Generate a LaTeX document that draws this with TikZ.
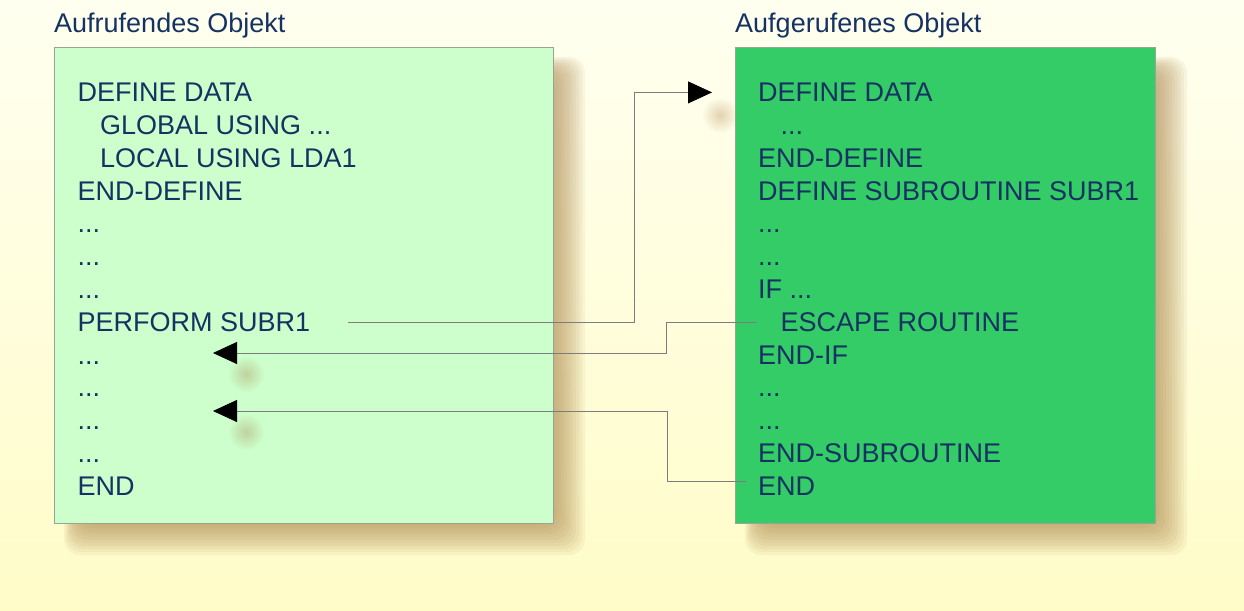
\documentclass[tikz,border=0pt]{standalone}
\usepackage{fontspec}
\setmainfont{Liberation Sans}
\usepackage{tikz}
\usetikzlibrary{shapes, arrows.meta, positioning, fadings}
\usepackage{xcolor}
\definecolor{codeblue}{RGB}{22,50,98}
\definecolor{callerfill}{RGB}{204,255,204}
\definecolor{calledfill}{RGB}{51,204,102}
\definecolor{boxedge}{RGB}{150,165,150}
\definecolor{linegray}{RGB}{125,125,125}
\definecolor{shadowtan}{RGB}{170,130,70}
\definecolor{bgtop}{RGB}{255,255,240}
\definecolor{bgbottom}{RGB}{255,252,200}
\newcommand{\codesize}{\fontsize{27pt}{32.8pt}\selectfont}
\tikzfading[name=softspot, inner color=transparent!65, outer color=transparent!100]
\tikzstyle{objectbox} = [
    rectangle,
    draw=boxedge,
    line width=0.8pt,
    inner sep=0pt,
    anchor=north west,
    minimum height=476pt
]
\tikzstyle{boxshadow} = [
    fill=shadowtan,
    opacity=0.08,
    rounded corners=16pt
]
\tikzstyle{caption} = [
    anchor=base west,
    inner sep=0pt,
    text=codeblue,
    font=\codesize
]
\tikzstyle{codeline} = [
    anchor=base west,
    inner sep=0pt,
    text=codeblue,
    font=\codesize
]
\tikzstyle{link} = [
    draw=linegray,
    line width=0.8pt,
    -{Triangle[length=24pt, width=22pt, color=black]}
]
\tikzstyle{tipshadow} = [
    fill=shadowtan,
    path fading=softspot
]

\begin{document}
\begin{tikzpicture}[x=1pt, y=-1pt, node distance=32.8pt]
    \useasboundingbox (0,0) rectangle (1244,610);
    \shade[top color=bgtop, bottom color=bgbottom] (0,0) rectangle (1244,610);

    % soft shadows under the two objects
    \foreach \g in {-16,-13,...,20} {
        \fill[boxshadow] ({64+0.5*(20-\g)},{57+0.5*(20-\g)}) rectangle ({565+\g},{535+\g});
        \fill[boxshadow] ({745+0.5*(20-\g)},{57+0.5*(20-\g)}) rectangle ({1167+\g},{535+\g});
    }

    % the two objects
    \node[objectbox, fill=callerfill, minimum width=499pt] (caller) at (54,47) {};
    \node[objectbox, fill=calledfill, minimum width=420pt] (called) at (735,47) {};
    \node[caption] (callertitle) at (54,32.5) {Aufrufendes Objekt};
    \node[caption] (calledtitle) at (735,32.5) {Aufgerufenes Objekt};

    % calling object
    \node[codeline] (ldefine) at (77.5,101.7) {DEFINE DATA};
    \node[below=of ldefine.base west, codeline, xshift=22.5pt] (lglobal) {GLOBAL USING ...};
    \node[below=of lglobal.base west, codeline] (llocal) {LOCAL USING LDA1};
    \node[below=of llocal.base west, codeline, xshift=-22.5pt] (lenddef) {END-DEFINE};
    \node[below=of lenddef.base west, codeline] (ldots1) {...};
    \node[below=of ldots1.base west, codeline] (ldots2) {...};
    \node[below=of ldots2.base west, codeline] (ldots3) {...};
    \node[below=of ldots3.base west, codeline] (lperform) {PERFORM SUBR1};
    \node[below=of lperform.base west, codeline] (ldots4) {...};
    \node[below=of ldots4.base west, codeline] (ldots5) {...};
    \node[below=of ldots5.base west, codeline] (ldots6) {...};
    \node[below=of ldots6.base west, codeline] (ldots7) {...};
    \node[below=of ldots7.base west, codeline] (lend) {END};

    % called object
    \node[codeline] (rdefine) at (758,101.7) {DEFINE DATA};
    \node[below=of rdefine.base west, codeline, xshift=22.5pt] (rdots1) {...};
    \node[below=of rdots1.base west, codeline, xshift=-22.5pt] (renddef) {END-DEFINE};
    \node[below=of renddef.base west, codeline] (rsubr) {DEFINE SUBROUTINE SUBR1};
    \node[below=of rsubr.base west, codeline] (rdots2) {...};
    \node[below=of rdots2.base west, codeline] (rdots3) {...};
    \node[below=of rdots3.base west, codeline] (rif) {IF ...};
    \node[below=of rif.base west, codeline, xshift=22.5pt] (rescape) {ESCAPE ROUTINE};
    \node[below=of rescape.base west, codeline, xshift=-22.5pt] (rendif) {END-IF};
    \node[below=of rendif.base west, codeline] (rdots4) {...};
    \node[below=of rdots4.base west, codeline] (rdots5) {...};
    \node[below=of rdots5.base west, codeline] (rendsub) {END-SUBROUTINE};
    \node[below=of rendsub.base west, codeline] (rend) {END};

    % where control comes back
    \coordinate (back1) at (213,353);
    \coordinate (back2) at (213,411);
    \fill[tipshadow] (720,115) circle (18pt);
    \fill[tipshadow] (246,374) circle (18pt);
    \fill[tipshadow] (246,432) circle (18pt);

    \draw[link] ([xshift=38pt]lperform.east) -- ++(285.5pt,0) |- ([xshift=-46pt]rdefine.west);
    \draw[link] ([xshift=-24pt]rescape.west) -- ++(-90pt,0) |- (back1);
    \draw[link] ([xshift=-12pt, yshift=5pt]rend.west) -- ++(-79pt,0) |- (back2);
\end{tikzpicture}
\end{document}
